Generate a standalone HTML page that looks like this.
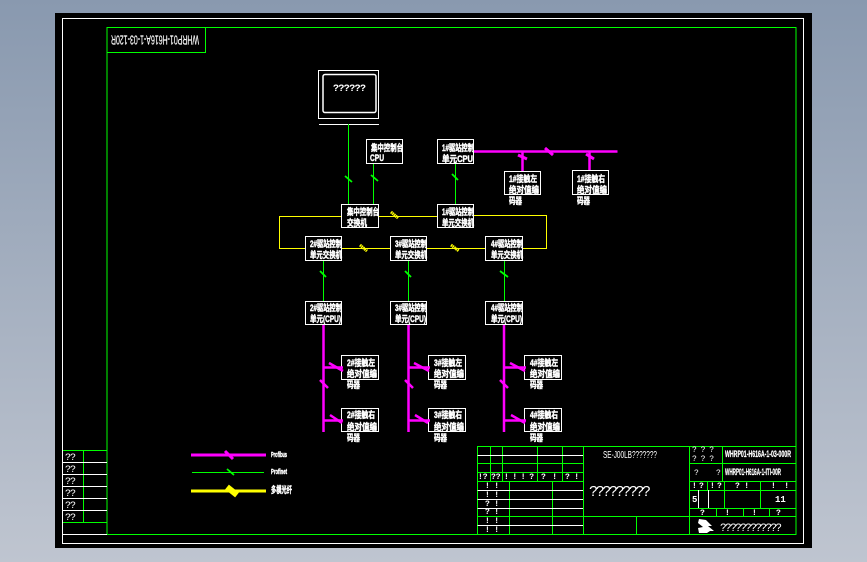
<!DOCTYPE html>
<html><head><meta charset="utf-8">
<style>html,body{margin:0;padding:0;background:#000}svg{display:block}
text{font-family:"Liberation Sans","Noto Sans CJK SC",sans-serif;fill:#fff}
.c{font-size:9px;font-weight:700;stroke:#fff;stroke-width:.45}
.q{font-family:"Liberation Mono",monospace;font-size:8px}
</style></head><body>
<svg width="867" height="562" viewBox="0 0 867 562" xmlns="http://www.w3.org/2000/svg">
<defs><linearGradient id="bg" x1="0" y1="0" x2="0" y2="1"><stop offset="0" stop-color="#8999af"/><stop offset="1" stop-color="#bfc5d0"/></linearGradient></defs>
<rect width="867" height="562" fill="url(#bg)"/>
<rect x="55" y="13" width="757" height="535" fill="#000"/>
<rect x="62.500" y="18.500" width="741" height="525" fill="none" stroke="#fff"/>
<g fill="none" stroke="#0f0" stroke-width="1">
<path d="M107 27.500H796V534.500H107Z"/>
<path d="M107 52.500H205.500V27.500"/>
<path d="M63 450.500H107M63 522.500H107M83.500 450V522"/>
<path d="M477.500 534V446.500H796"/>
<path d="M477.500 463.500H583M477.500 472.500H583M477.500 481.500H583M477.500 516.500H796M689 463.500H796M689 481.500H796M689 490.500H796M689 508.500H796"/>
<path d="M490.500 446V481M502.500 446V481M537.500 446V481M562.500 446V481M583.500 446V534M689.500 446V534M722.500 446V481M509.500 481V534M552.500 481V534M636.500 516V534"/>
<path d="M707.500 481V490M724.500 481V508M760.500 481V508M716.500 508V516M743.500 508V516M769.500 508V516"/>
</g>
<g fill="none" stroke="#fff" stroke-width="1">
<path d="M63 462.500H107M63 474.500H107M63 486.500H107M63 498.500H107M63 510.500H107M63 534.500H107"/>
<path d="M477.500 455.500H583M477.500 490.500H583M477.500 499.500H583M477.500 508.500H583M477.500 525.500H583"/>
<path d="M698.500 490V508M708.500 490V508"/>
<rect x="318.500" y="70.500" width="60" height="48"/>
<rect x="323" y="74.500" width="53" height="38" rx="2" stroke-width="1.500"/>
<path d="M319 124.500H379"/>
</g>
<!-- yellow -->
<g fill="none" stroke="#ff0" stroke-width="1">
<path d="M341 216.500H279.500V248.500H305M379 216.500H437M474 215.500H546.500V248.500H523M342 248.500H390M427 248.500H485"/>
</g>
<g stroke="#ff0" stroke-width="3" stroke-dasharray="1.500 .5"><path d="M391 212L398 218M360 245L367 251M451 245L459 251"/></g>
<!-- green -->
<g stroke="#0f0" stroke-width="1" fill="none">
<path d="M348.500 124V204M373.500 164V204M455.500 164V204M323.500 261V301M408.500 261V301M504.500 261V301M192 472.500H264"/>
</g>
<g stroke="#0f0" stroke-width="1.800" fill="none">
<path d="M345 176L352 182M371 175L378 181M452 174L458 180M320 271L326 277M405 271L411 277M500 271L508 277M227 469L234 475"/>
</g>
<!-- magenta -->
<g stroke="#f0f" stroke-width="2.500" fill="none">
<path d="M472 151.500H617.500M522.500 151V171M589.500 151V170"/>
<path d="M191 455H266" stroke-width="3"/>
<path d="M545 148L553 155M518 155L527 159M586 154L594 159M225 451L233 459" stroke-width="3"/>
</g>
<path d="M191 491H266" stroke="#ff0" stroke-width="3"/>
<path d="M227 487L237 495" stroke="#ff0" stroke-width="6"/>
<!-- nodes -->
<g fill="#000" stroke="#fff" stroke-width="1">
<rect x="366.500" y="139.500" width="36" height="24"/>
<rect x="437.500" y="139.500" width="36" height="24"/>
<rect x="504.500" y="171.500" width="36" height="23"/>
<rect x="572.500" y="170.500" width="36" height="24"/>
<rect x="341.500" y="204.500" width="37" height="23"/>
<rect x="437.500" y="204.500" width="36" height="23"/>
<rect x="305.500" y="236.500" width="36" height="24"/>
<rect x="390.500" y="236.500" width="36" height="24"/>
<rect x="485.500" y="236.500" width="37" height="24"/>
<rect x="305.500" y="301.500" width="36" height="23"/>
<rect x="390.500" y="301.500" width="36" height="23"/>
<rect x="485.500" y="301.500" width="37" height="23"/>
<rect x="341.500" y="355.500" width="37" height="24"/>
<rect x="428.500" y="355.500" width="37" height="24"/>
<rect x="524.500" y="355.500" width="37" height="24"/>
<rect x="341.500" y="408.500" width="37" height="23"/>
<rect x="428.500" y="408.500" width="37" height="23"/>
<rect x="524.500" y="408.500" width="37" height="23"/>
</g>
<g stroke="#f0f" stroke-width="2.500" fill="none">
<path d="M323.500 325V432M408.500 325V432M504 325V432"/>
<path d="M323 367.500H343M323 420.500H343M408 367.500H430M408 420.500H430M504 367.500H526M504 420.500H526"/>
<path d="M329 363L343 371M320 380L328 388M330 415L342 423M414 363L429 371M405 380L413 388M415 415L428 423M510 363L525 371M500 380L508 388M511 415L525 423"/>
</g>
<g>
<text class="c" x="371" y="151" textLength="32" lengthAdjust="spacingAndGlyphs">集中控制台</text>
<text class="c" x="370" y="161" textLength="14" lengthAdjust="spacingAndGlyphs">CPU</text>
<text class="c" x="442" y="151" textLength="32" lengthAdjust="spacingAndGlyphs">1#驱站控制</text>
<text class="c" x="442" y="162" textLength="31" lengthAdjust="spacingAndGlyphs">单元CPU</text>
<text class="c" x="509" y="182" textLength="28" lengthAdjust="spacingAndGlyphs">1#接触左</text>
<text class="c" x="509" y="193" textLength="30" lengthAdjust="spacingAndGlyphs">绝对值编</text>
<text class="c" x="509" y="204" textLength="13" lengthAdjust="spacingAndGlyphs">码器</text>
<text class="c" x="577" y="182" textLength="28" lengthAdjust="spacingAndGlyphs">1#接触右</text>
<text class="c" x="577" y="193" textLength="30" lengthAdjust="spacingAndGlyphs">绝对值编</text>
<text class="c" x="577" y="204" textLength="13" lengthAdjust="spacingAndGlyphs">码器</text>
<text class="c" x="347" y="215" textLength="32" lengthAdjust="spacingAndGlyphs">集中控制台</text>
<text class="c" x="347" y="226" textLength="20" lengthAdjust="spacingAndGlyphs">交换机</text>
<text class="c" x="442" y="215" textLength="32" lengthAdjust="spacingAndGlyphs">1#驱站控制</text>
<text class="c" x="442" y="226" textLength="32" lengthAdjust="spacingAndGlyphs">单元交换机</text>
<text class="c" x="310" y="247" textLength="32" lengthAdjust="spacingAndGlyphs">2#驱站控制</text>
<text class="c" x="310" y="258" textLength="32" lengthAdjust="spacingAndGlyphs">单元交换机</text>
<text class="c" x="395" y="247" textLength="32" lengthAdjust="spacingAndGlyphs">3#驱站控制</text>
<text class="c" x="395" y="258" textLength="32" lengthAdjust="spacingAndGlyphs">单元交换机</text>
<text class="c" x="491" y="247" textLength="32" lengthAdjust="spacingAndGlyphs">4#驱站控制</text>
<text class="c" x="491" y="258" textLength="32" lengthAdjust="spacingAndGlyphs">单元交换机</text>
<text class="c" x="310" y="311" textLength="32" lengthAdjust="spacingAndGlyphs">2#驱站控制</text>
<text class="c" x="310" y="322" textLength="31" lengthAdjust="spacingAndGlyphs">单元(CPU)</text>
<text class="c" x="395" y="311" textLength="32" lengthAdjust="spacingAndGlyphs">3#驱站控制</text>
<text class="c" x="395" y="322" textLength="31" lengthAdjust="spacingAndGlyphs">单元(CPU)</text>
<text class="c" x="491" y="311" textLength="32" lengthAdjust="spacingAndGlyphs">4#驱站控制</text>
<text class="c" x="491" y="322" textLength="31" lengthAdjust="spacingAndGlyphs">单元(CPU)</text>
<text class="c" x="347" y="366" textLength="28" lengthAdjust="spacingAndGlyphs">2#接触左</text>
<text class="c" x="347" y="377" textLength="30" lengthAdjust="spacingAndGlyphs">绝对值编</text>
<text class="c" x="347" y="388" textLength="13" lengthAdjust="spacingAndGlyphs">码器</text>
<text class="c" x="347" y="418" textLength="28" lengthAdjust="spacingAndGlyphs">2#接触右</text>
<text class="c" x="347" y="430" textLength="30" lengthAdjust="spacingAndGlyphs">绝对值编</text>
<text class="c" x="347" y="441" textLength="13" lengthAdjust="spacingAndGlyphs">码器</text>
<text class="c" x="434" y="366" textLength="28" lengthAdjust="spacingAndGlyphs">3#接触左</text>
<text class="c" x="434" y="377" textLength="30" lengthAdjust="spacingAndGlyphs">绝对值编</text>
<text class="c" x="434" y="388" textLength="13" lengthAdjust="spacingAndGlyphs">码器</text>
<text class="c" x="434" y="418" textLength="28" lengthAdjust="spacingAndGlyphs">3#接触右</text>
<text class="c" x="434" y="430" textLength="30" lengthAdjust="spacingAndGlyphs">绝对值编</text>
<text class="c" x="434" y="441" textLength="13" lengthAdjust="spacingAndGlyphs">码器</text>
<text class="c" x="530" y="366" textLength="28" lengthAdjust="spacingAndGlyphs">4#接触左</text>
<text class="c" x="530" y="377" textLength="30" lengthAdjust="spacingAndGlyphs">绝对值编</text>
<text class="c" x="530" y="388" textLength="13" lengthAdjust="spacingAndGlyphs">码器</text>
<text class="c" x="530" y="418" textLength="28" lengthAdjust="spacingAndGlyphs">4#接触右</text>
<text class="c" x="530" y="430" textLength="30" lengthAdjust="spacingAndGlyphs">绝对值编</text>
<text class="c" x="530" y="441" textLength="13" lengthAdjust="spacingAndGlyphs">码器</text>
<text class="c" x="271" y="457" textLength="16" lengthAdjust="spacingAndGlyphs" style="font-size:7px">Profibus</text>
<text class="c" x="271" y="474" textLength="16" lengthAdjust="spacingAndGlyphs" style="font-size:7px">Profinet</text>
<text class="c" x="271" y="493" textLength="21" lengthAdjust="spacingAndGlyphs">多模光纤</text>
</g>
<text x="333" y="91" textLength="33" style="font-family:'Liberation Mono',monospace;font-size:10px;font-weight:700">??????</text>
<text transform="rotate(180 155.500 40)" x="112" y="44.500" textLength="88" lengthAdjust="spacingAndGlyphs" style="font-size:13px;stroke:#fff;stroke-width:.2">WHRP01-H616A-1-03-120R</text>
<!-- left table -->
<g>
<text x="65" y="460" textLength="11" style="font-family:'Liberation Mono',monospace;font-size:10px">??</text>
<text x="65" y="472" textLength="11" style="font-family:'Liberation Mono',monospace;font-size:10px">??</text>
<text x="65" y="484" textLength="11" style="font-family:'Liberation Mono',monospace;font-size:10px">??</text>
<text x="65" y="496" textLength="11" style="font-family:'Liberation Mono',monospace;font-size:10px">??</text>
<text x="65" y="508" textLength="11" style="font-family:'Liberation Mono',monospace;font-size:10px">??</text>
<text x="65" y="520" textLength="11" style="font-family:'Liberation Mono',monospace;font-size:10px">??</text>
</g>
<!-- title block text -->
<text x="603" y="458" textLength="54" lengthAdjust="spacingAndGlyphs" style="font-size:10px">SE-J00LB???????</text>
<text x="589" y="496" textLength="62" style="font-family:'Liberation Mono',monospace;font-size:15px">?????????</text>
<text class="q" x="692" y="452" textLength="22">? ? ?</text>
<text class="q" x="692" y="461" textLength="22">? ? ?</text>
<text x="725" y="457" textLength="66" lengthAdjust="spacingAndGlyphs" style="font-size:9px;font-weight:700;stroke:#fff;stroke-width:.25">WHRP01-H616A-1-03-000R</text>
<text x="725" y="475" textLength="56" lengthAdjust="spacingAndGlyphs" style="font-size:9px;font-weight:700;stroke:#fff;stroke-width:.25">WHRP01-H616A-1-ITI-00R</text>
<text class="q" x="694" y="475">?</text><text class="q" x="716" y="475">?</text>
<g style="font-weight:700">
<text class="q" x="478" y="479">!?</text><text class="q" x="491" y="479">??</text>
<text class="q" x="504" y="479" textLength="30">! ! ! ?</text>
<text class="q" x="541" y="479" textLength="16">? !</text>
<text class="q" x="565" y="479" textLength="14">? !</text>
<text class="q" x="485" y="488" textLength="14">! !</text>
<text class="q" x="485" y="497" textLength="14">! !</text>
<text class="q" x="485" y="506" textLength="14">? !</text>
<text class="q" x="485" y="514" textLength="14">? !</text>
<text class="q" x="485" y="523" textLength="14">! !</text>
<text class="q" x="485" y="532" textLength="14">! !</text>
<text class="q" x="692" y="488">!</text><text class="q" x="699" y="488">?</text>
<text class="q" x="710" y="488">!</text><text class="q" x="717" y="488">?</text>
<text class="q" x="735" y="488" textLength="14">? !</text>
<text class="q" x="771" y="488" textLength="18">! !</text>
<text class="q" x="700" y="515">?</text><text class="q" x="725" y="515">!</text><text class="q" x="752" y="515">!</text><text class="q" x="776" y="515">?</text>
<text class="q" x="692" y="502" style="font-size:9px">5</text>
<text class="q" x="775" y="502" style="font-size:9px">11</text>
</g>
<path d="M699 519L706 520L712 526H708L714 531H710L707 533H699L698 528L703 527L698 523Z" fill="#fff"/>
<text x="720" y="531" textLength="62" style="font-family:'Liberation Mono',monospace;font-size:11px">????????????</text>
</svg>
</body></html>
